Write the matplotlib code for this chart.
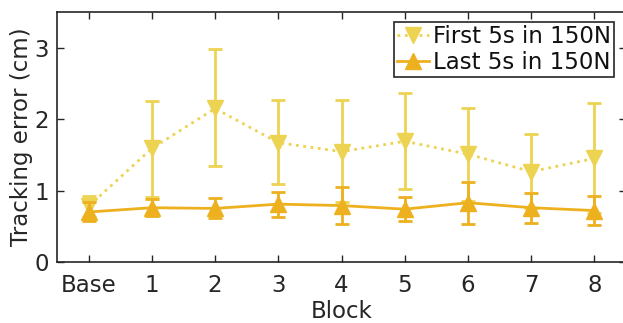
import matplotlib
matplotlib.use("Agg")
import matplotlib.pyplot as plt
from matplotlib.lines import Line2D
import numpy as np

plt.rcParams['font.family'] = ['DejaVu Sans']

categories = ["Base", "1", "2", "3", "4", "5", "6", "7", "8"]
first_mean = [0.78, 1.59, 2.15, 1.67, 1.545, 1.69, 1.51, 1.265, 1.45]
first_upper = [0.92, 2.25, 2.98, 2.27, 2.27, 2.36, 2.15, 1.79, 2.22]
first_lower = [0.63, 0.915, 1.35, 1.09, 0.84, 1.02, 0.85, 0.75, 0.68]
last_mean = [0.70, 0.76, 0.75, 0.81, 0.79, 0.74, 0.83, 0.76, 0.72]
last_upper = [0.845, 0.88, 0.89, 0.975, 1.055, 0.915, 1.125, 0.96, 0.925]
last_lower = [0.575, 0.65, 0.61, 0.625, 0.53, 0.575, 0.53, 0.55, 0.52]
yticks = [0, 1, 2, 3]
labels = ["First 5s in 150N", "Last 5s in 150N"]

c1 = "#EDD352"
c2 = "#EDB120"
FS = 16.5

W, H = 623, 323
fig = plt.figure(figsize=(W/100, H/100), dpi=100)
ax = fig.add_axes([57/W, 1 - 262/H, (626-57)/W, (262-12)/H])

x = np.arange(len(categories))
fm = np.array(first_mean)
lm = np.array(last_mean)
ax.errorbar(x, fm, yerr=[fm - np.array(first_lower), np.array(first_upper) - fm],
            color=c1, ls=':', lw=2, marker='v', ms=11, capsize=5, capthick=2,
            elinewidth=2, zorder=2)
ax.errorbar(x, lm, yerr=[lm - np.array(last_lower), np.array(last_upper) - lm],
            color=c2, ls='-', lw=2, marker='^', ms=11, capsize=5, capthick=2,
            elinewidth=2, zorder=3)

ax.set_xlim(-0.5, 8.5)
ax.set_ylim(0, 3.5)
ax.set_xticks(x)
ax.set_xticklabels(categories)
ax.set_yticks(yticks)
ax.tick_params(direction='in', length=5, width=1, top=True, right=True,
               labelsize=FS, colors='#262626')
ax.tick_params(axis='x', pad=9)
ax.tick_params(axis='y', pad=6)
for s in ax.spines.values():
    s.set_linewidth(1.2)
    s.set_color('#262626')
ax.set_xlabel("Block", fontsize=FS, color='#262626', labelpad=2)
ax.set_ylabel("Tracking error (cm)", fontsize=FS, color='#262626', labelpad=1)

handles = [Line2D([], [], color=c1, ls=':', lw=2, marker='v', ms=11),
           Line2D([], [], color=c2, ls='-', lw=2, marker='^', ms=11)]
leg = ax.legend(handles, labels, loc='upper right',
                bbox_to_anchor=((614-57)/(626-57), 1 - 10/250),
                fontsize=FS, frameon=True, fancybox=False, framealpha=1,
                edgecolor='#262626', borderpad=0.15, handlelength=1.4,
                handletextpad=0.15, labelspacing=0.1, borderaxespad=0)
leg.get_frame().set_linewidth(1.2)
for t in leg.get_texts():
    t.set_color('#111111')

fig.savefig("out.png", dpi=100)
